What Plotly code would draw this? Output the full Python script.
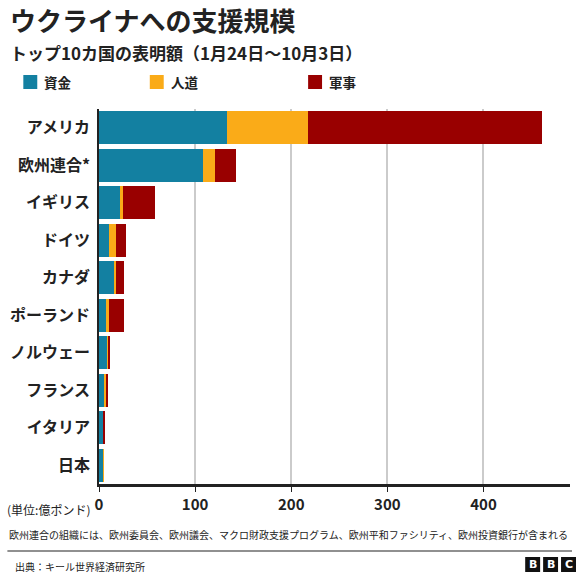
import plotly.graph_objects as go

countries = ["アメリカ", "欧州連合*", "イギリス", "ドイツ", "カナダ", "ポーランド", "ノルウェー", "フランス", "イタリア", "日本"]
financial = [133.4, 108.2, 21.9, 10.0, 16.0, 7.9, 8.6, 6.0, 4.3, 5.0]
humanitarian = [83.9, 12.8, 3.4, 8.2, 1.8, 2.0, 0.3, 1.0, 0.2, 0.1]
military = [243.2, 21.7, 32.7, 10.3, 8.7, 15.9, 2.9, 2.2, 1.2, 0.0]
series_names = ["資金", "人道", "軍事"]
series_colors = ["#1380A1", "#FAAB18", "#990000"]
x_ticks = [0, 100, 200, 300, 400]

FONT = "Noto Sans CJK JP, Noto Sans, sans-serif"

fig = go.Figure()
for name, vals, col in zip(series_names, [financial, humanitarian, military], series_colors):
    fig.add_trace(go.Bar(
        y=countries, x=vals, name=name, orientation="h",
        marker=dict(color=col, line=dict(width=0)),
        showlegend=False,
    ))

W, H = 580, 573
ml, mr, mt, mb = 97, 10, 109, 89
PW, PH = W - ml - mr, H - mt - mb

fig.update_layout(
    width=W, height=H,
    margin=dict(l=ml, r=mr, t=mt, b=mb),
    barmode="stack", bargap=0.13,
    plot_bgcolor="white", paper_bgcolor="white",
    font=dict(family=FONT, color="#222222"),
    xaxis=dict(
        range=[0, 490], tickvals=x_ticks, ticktext=[str(v) for v in x_ticks],
        showgrid=True, gridcolor="#cbcbcb", gridwidth=1.5,
        zeroline=False,
        showline=True, linecolor="#222222", linewidth=2.5,
        ticks="outside", ticklen=5, tickcolor="#222222", tickwidth=1,
        tickfont=dict(size=15, color="#222222", family=FONT, weight="bold"),
        fixedrange=True,
    ),
    yaxis=dict(
        autorange="reversed",
        showline=True, linecolor="#222222", linewidth=1.5,
        showgrid=False, zeroline=False,
        ticks="outside", ticklen=4, tickcolor="rgba(0,0,0,0)",
        tickfont=dict(size=16, color="#222222", family=FONT, weight="bold"),
    ),
)

def px_x(p):
    return (p - ml) / PW

def px_y(p):
    return (H - mb - p) / PH

def note(text, x, y, size, anchor="left"):
    return dict(text=text, x=px_x(x), y=px_y(y), xanchor=anchor, yanchor="middle",
                font=dict(size=size, color="#222222", family=FONT), showarrow=False,
                xref="paper", yref="paper")

annotations = [
    note("<b>ウクライナへの支援規模</b>", 6, 20, 26),
    note("<b>トップ10カ国の表明額（1月24日～10月3日）</b>", 6, 52, 17),
    note("(単位:億ポンド)", 3, 509, 12),
    note("欧州連合の組織には、欧州委員会、欧州議会、マクロ財政支援プログラム、欧州平和ファシリティ、欧州投資銀行が含まれる", 5, 534, 10),
    note("出典：キール世界経済研究所", 11, 566, 10),
]

shapes = [
    dict(type="line", xref="paper", yref="paper", x0=px_x(5), x1=px_x(572), y0=px_y(551), y1=px_y(551),
         line=dict(color="#222222", width=1.2)),
]

# legend (manual, to match spacing)
legend_x = [21, 148, 307]
for lx, name, col in zip(legend_x, series_names, series_colors):
    shapes.append(dict(type="rect", xref="paper", yref="paper",
                       x0=px_x(lx), x1=px_x(lx + 14), y0=px_y(89), y1=px_y(75),
                       fillcolor=col, line=dict(width=0)))
    annotations.append(note("<b>" + name + "</b>", lx + 19, 82, 13.5))

# BBC logo
for i, letter in enumerate("BBC"):
    bx = 525 + i * 18
    shapes.append(dict(type="rect", xref="paper", yref="paper",
                       x0=px_x(bx), x1=px_x(bx + 15), y0=px_y(572), y1=px_y(557),
                       fillcolor="#111111", line=dict(width=0)))
    annotations.append(dict(text="<b>" + letter + "</b>", x=px_x(bx + 7.5), y=px_y(564.5),
                            xanchor="center", yanchor="middle",
                            font=dict(size=11, color="white", family="DejaVu Sans, sans-serif"),
                            showarrow=False, xref="paper", yref="paper"))

fig.update_layout(annotations=annotations, shapes=shapes)
fig.write_html("out.html")
